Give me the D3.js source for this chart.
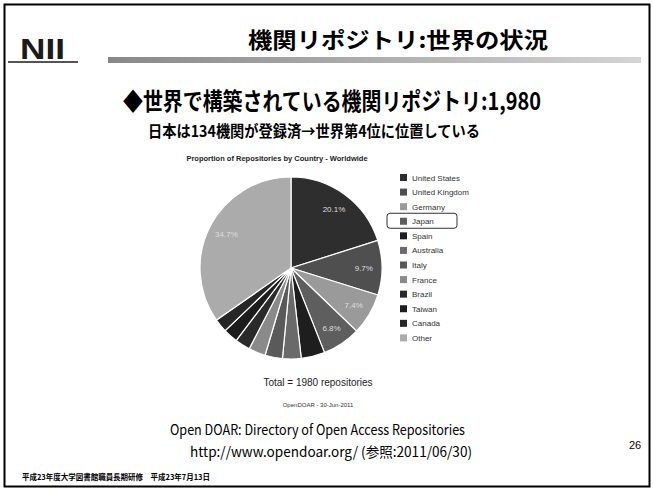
<!DOCTYPE html>
<html>
<head>
<meta charset="utf-8">
<script src="https://cdn.jsdelivr.net/npm/d3@7"></script>
<style>
  body { margin: 0; background: #fff; }
</style>
</head>
<body>
<svg id="slide" width="653" height="490" font-family="'Noto Sans CJK JP', 'Noto Sans', sans-serif"></svg>
<script>
// pie data
var countries = ['United States', 'United Kingdom', 'Germany', 'Japan', 'Spain', 'Australia',
    'Italy', 'France', 'Brazil', 'Taiwan', 'Canada', 'Other'];
var shares = [20.1, 9.7, 7.4, 6.8, 4.2, 3.3, 3.1, 3.0, 2.7, 2.6, 2.4, 34.7];
var shades = ['#2e2e2e', '#4f4f4f', '#9a9a9a', '#5e5e5e', '#1e1e1e', '#6a6a6a',
    '#5a5a5a', '#8a8a8a', '#2a2a2a', '#1c1c1c', '#262626', '#ababab'];
var shownLabels = ['20.1%', '9.7%', '7.4%', '6.8%', '', '', '', '', '', '', '', '34.7%'];

var svg = d3.select('#slide');
var latin = 'Liberation Sans, Arial, sans-serif';

// slide frame
svg.append('rect')
    .attr('x', 4.5).attr('y', 4.5)
    .attr('width', 645).attr('height', 482)
    .attr('fill', 'none').attr('stroke', '#000').attr('stroke-width', 2);

// header: logo, title, gradient bar
svg.append('text').text('NII')
    .attr('x', 20).attr('y', 59)
    .attr('font-size', 29).attr('font-weight', 'bold')
    .attr('font-family', 'Liberation Sans Narrow, Liberation Sans').attr('fill', '#1a1a1a')
    .attr('textLength', 45).attr('lengthAdjust', 'spacingAndGlyphs');
svg.append('rect')
    .attr('x', 8).attr('y', 61).attr('width', 70).attr('height', 2).attr('fill', '#555');

var grad = svg.append('defs').append('linearGradient').attr('id', 'bar');
grad.append('stop').attr('offset', '0%').attr('stop-color', '#888');
grad.append('stop').attr('offset', '100%').attr('stop-color', '#d4d4d4');
svg.append('rect')
    .attr('x', 108).attr('y', 57).attr('width', 533).attr('height', 6)
    .attr('fill', 'url(#bar)');

svg.append('text').text('機関リポジトリ:世界の状況')
    .attr('x', 248).attr('y', 48)
    .attr('font-size', 22).attr('font-weight', 'bold')
    .attr('textLength', 300).attr('lengthAdjust', 'spacingAndGlyphs');

svg.append('text').text('◆世界で構築されている機関リポジトリ:1,980')
    .attr('x', 123).attr('y', 110)
    .attr('font-size', 24).attr('font-weight', 'bold')
    .attr('textLength', 418).attr('lengthAdjust', 'spacingAndGlyphs');

svg.append('text').text('日本は134機関が登録済→世界第4位に位置している')
    .attr('x', 148).attr('y', 137)
    .attr('font-size', 15.5).attr('font-weight', 'bold')
    .attr('textLength', 332).attr('lengthAdjust', 'spacingAndGlyphs');

// chart title
svg.append('text').text('Proportion of Repositories by Country - Worldwide')
    .attr('x', 277).attr('y', 161)
    .attr('text-anchor', 'middle')
    .attr('font-size', 7.5).attr('font-weight', 'bold')
    .attr('font-family', latin).attr('fill', '#222');

// pie
var cx = 291, cy = 268, radius = 91;
var pie = d3.pie().sort(null).value(function(d) { return d; });
var arc = d3.arc().innerRadius(0).outerRadius(radius);
var labelArc = d3.arc().innerRadius(radius * 0.8).outerRadius(radius * 0.8);
var arcs = pie(shares);

var pieG = svg.append('g').attr('transform', 'translate(' + [cx, cy] + ')');
pieG.selectAll('path')
    .data(arcs)
    .enter().append('path')
    .attr('d', arc)
    .attr('fill', function(d, i) { return shades[i]; })
    .attr('stroke', '#fff').attr('stroke-width', 1.2);

pieG.selectAll('.lbl')
    .data(arcs)
    .enter().append('text')
    .attr('class', 'lbl')
    .attr('transform', function(d) { return 'translate(' + labelArc.centroid(d) + ')'; })
    .attr('dy', '0.35em')
    .attr('text-anchor', 'middle')
    .attr('font-size', 8).attr('font-family', latin)
    .attr('fill', '#ddd')
    .text(function(d, i) { return shownLabels[i]; });

// legend
var legendY = d3.scaleBand().domain(countries).range([174, 349]);
var legend = svg.append('g').attr('transform', 'translate(400,0)');
var items = legend.selectAll('.item')
    .data(countries)
    .enter().append('g')
    .attr('class', 'item')
    .attr('transform', function(d) { return 'translate(0,' + legendY(d) + ')'; });
items.append('rect')
    .attr('width', 7).attr('height', 7)
    .attr('fill', function(d, i) { return shades[i]; });
items.append('text')
    .attr('x', 12).attr('y', 6.5)
    .attr('font-size', 8).attr('font-family', latin).attr('fill', '#333')
    .text(function(d) { return d; });

// box round Japan
legend.append('rect')
    .attr('x', -13).attr('y', legendY('Japan') - 4.5)
    .attr('width', 70).attr('height', 15).attr('rx', 3)
    .attr('fill', 'none').attr('stroke', '#333').attr('stroke-width', 1);

// totals
svg.append('text').text('Total = 1980 repositories')
    .attr('x', 318).attr('y', 386)
    .attr('text-anchor', 'middle')
    .attr('font-size', 10).attr('font-family', latin).attr('fill', '#222');
svg.append('text').text('OpenDOAR - 30-Jun-2011')
    .attr('x', 318).attr('y', 407)
    .attr('text-anchor', 'middle')
    .attr('font-size', 6).attr('font-family', latin).attr('fill', '#333');

// source lines
svg.append('text').text('Open DOAR: Directory of Open Access Repositories')
    .attr('x', 170).attr('y', 435)
    .attr('font-size', 14)
    .attr('textLength', 295).attr('lengthAdjust', 'spacingAndGlyphs');
svg.append('text').text('http://www.opendoar.org/ (参照:2011/06/30)')
    .attr('x', 190).attr('y', 457)
    .attr('font-size', 14)
    .attr('textLength', 282).attr('lengthAdjust', 'spacingAndGlyphs');

svg.append('text').text('26')
    .attr('x', 629).attr('y', 449)
    .attr('font-size', 11).attr('font-family', latin);

svg.append('text').text('平成23年度大学図書館職員長期研修　平成23年7月13日')
    .attr('x', 22).attr('y', 480)
    .attr('font-size', 7.5).attr('font-weight', 'bold')
    .attr('textLength', 188).attr('lengthAdjust', 'spacingAndGlyphs');
</script>
</body>
</html>
